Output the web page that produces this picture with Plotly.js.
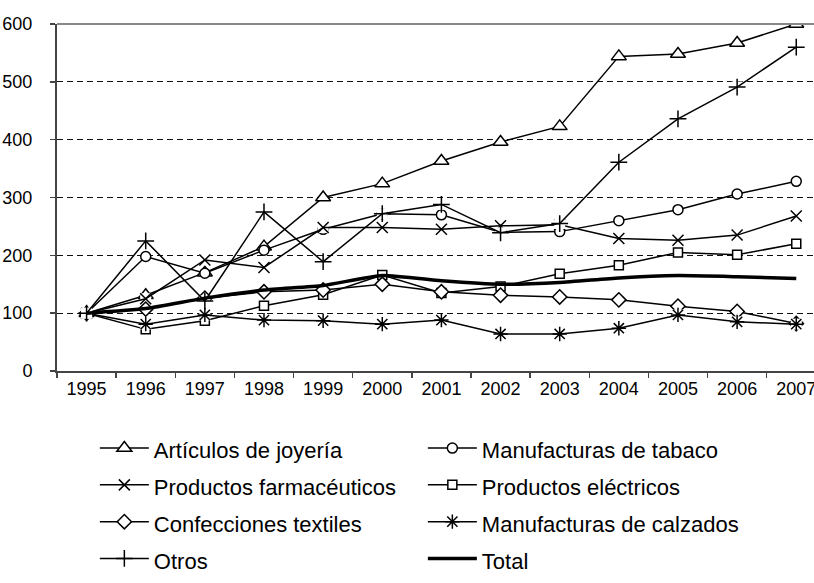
<!DOCTYPE html>
<html>
<head>
<meta charset="utf-8">
<script src="https://cdn.plot.ly/plotly-3.0.1.min.js"></script>
<style>html,body{margin:0;padding:0;background:#fff;}#chart{width:814px;height:583px;}</style>
</head>
<body>
<div id="chart"></div>
<script>
var years = ['1995','1996','1997','1998','1999','2000','2001','2002','2003','2004','2005','2006','2007'];
var joyeria   = [100,131,170,215,300,324,363,396,423,544,548,567,600];
var tabaco    = [100,198,169,209,245,272,270,240,241,260,279,306,328];
var farmac    = [100,125,192,179,248,248,245,251,253,229,226,235,268];
var electr    = [100,72,87,113,132,166,135,146,168,183,205,201,220];
var textiles  = [100,107,126,137,140,150,137,131,128,123,112,103,82];
var calzados  = [100,81,97,88,87,81,88,64,64,74,97,85,81];
var otros     = [100,225,121,275,189,272,288,239,255,361,436,491,560];
var total     = [100,108,126,140,148,165,156,150,153,161,165,163,160];

var names = ['Artículos de joyería','Manufacturas de tabaco','Productos farmacéuticos','Productos eléctricos',
             'Confecciones textiles','Manufacturas de calzados','Otros','Total'];

function lab(t){ return '<span style="font-size:22px">' + t + '</span>'; }

function filled(y, name, symbol, size){
  return {x: years, y: y, name: lab(name), type:'scatter', mode:'lines+markers',
    line:{color:'#000', width:1.5},
    marker:{symbol: symbol, size: size, color:'#fff', line:{color:'#000', width:1.5}}};
}
function bg(y){
  return {x: years, y: y, type:'scatter', mode:'markers', showlegend:false, hoverinfo:'skip',
    marker:{symbol:'square', size:11, color:'#fff', line:{width:0}}};
}
function open(y, name, symbol, size){
  return {x: years, y: y, name: lab(name), type:'scatter', mode:'lines+markers',
    line:{color:'#000', width:1.5},
    marker:{symbol: symbol, size: size, color:'#000', line:{color:'#000', width:1.5}}};
}

var data = [
  filled(joyeria, names[0], 'triangle-up', 13),
  filled(tabaco, names[1], 'circle', 10),
  bg(farmac),
  open(farmac, names[2], 'x-thin', 11),
  filled(electr, names[3], 'square', 9),
  filled(textiles, names[4], 'diamond', 11),
  bg(calzados),
  open(calzados, names[5], 'asterisk', 12),
  bg(otros),
  open(otros, names[6], 'cross-thin', 12),
  {x: years, y: total, name: lab(names[7]), type:'scatter', mode:'lines',
   line:{color:'#000', width:3.5, shape:'spline', smoothing:0.5}}
];

var layout = {
  width: 814, height: 583,
  margin: {l:57, r:0, t:24, b:212},
  paper_bgcolor:'#fff', plot_bgcolor:'#fff',
  font: {family:'"Liberation Sans", Arial, sans-serif', color:'#000', size:18},
  showlegend: true,
  xaxis: {type:'category', range:[-0.5, 12.3], tickson:'boundaries', ticks:'outside', ticklen:5,
          tickcolor:'#444', tickwidth:1.5, showline:true, linecolor:'#444', linewidth:2,
          showgrid:false, zeroline:false, tickfont:{size:18, color:'#000'}, fixedrange:true},
  yaxis: {range:[0,600], dtick:100, ticks:'outside', ticklen:5, tickcolor:'#444', tickwidth:1.5,
          showline:true, linecolor:'#444', linewidth:2, showgrid:true, gridcolor:'#111', gridwidth:1,
          griddash:'6px,4px', zeroline:false, tickfont:{size:18, color:'#000'}, ticklabelstandoff:14,
          fixedrange:true},
  shapes: [{type:'line', xref:'paper', yref:'paper', x0:0, x1:1, y0:1, y1:1,
            line:{color:'#888', width:2}}],
  legend: {orientation:'h', x:0.05, xanchor:'left', y:-0.610, yanchor:'bottom',
           font:{size:26, color:'#000'}, entrywidth:264, entrywidthmode:'pixels', itemwidth:49,
           bgcolor:'rgba(0,0,0,0)', traceorder:'normal'}
};

Plotly.newPlot('chart', data, layout, {displayModeBar:false, staticPlot:true});
</script>
</body>
</html>
